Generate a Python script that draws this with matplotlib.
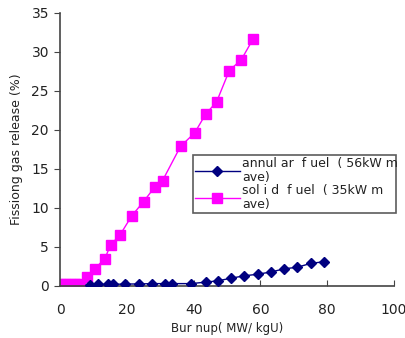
import matplotlib
matplotlib.use('Agg')
import matplotlib.pyplot as plt

# annular fuel (56 kW/m ave)
annular_burnup = [9, 11.3, 14.3, 16, 19.4, 23.6, 27.4, 31.3, 33.4, 39.3, 43.8, 47.2,
                  51.3, 55.2, 59.2, 63.3, 67.2, 71.1, 75.2, 79.1]
annular_fgr = [0.15, 0.2, 0.2, 0.2, 0.25, 0.25, 0.3, 0.3, 0.3, 0.3, 0.5, 0.65,
               1.0, 1.3, 1.5, 1.8, 2.2, 2.4, 2.9, 3.1]

# solid fuel (35 kW/m ave)
solid_burnup = [0, 1.5, 3, 4.5, 6, 8.2, 10.4, 13.4, 15.2, 17.9, 21.5, 25, 28.4, 30.7,
                36.1, 40.3, 43.6, 46.9, 50.7, 54.3, 57.9]
solid_fgr = [0.2, 0.2, 0.2, 0.2, 0.2, 1.15, 2.2, 3.5, 5.3, 6.5, 9.0, 10.8, 12.7, 13.5,
             17.9, 19.6, 22.0, 23.6, 27.6, 29.0, 31.7]

labels = ['annul ar  f uel  ( 56kW m\nave)', 'sol i d  f uel  ( 35kW m\nave)']

fig = plt.figure(figsize=(4.06, 3.38), dpi=100)
ax = fig.add_axes([0.148, 0.154, 0.822, 0.808])

ax.plot(annular_burnup, annular_fgr, color='#000080', marker='D', markersize=5.5,
        linewidth=1, label=labels[0], zorder=3)
ax.plot(solid_burnup, solid_fgr, color='#FF00FF', marker='s', markersize=7,
        linewidth=1, label=labels[1], zorder=2)

ax.set_xlim(0, 100)
ax.set_ylim(0, 35)
ax.set_xticks([0, 20, 40, 60, 80, 100])
ax.set_yticks([0, 5, 10, 15, 20, 25, 30, 35])

for s in ['top', 'right']:
    ax.spines[s].set_visible(False)
for s in ['left', 'bottom']:
    ax.spines[s].set_color('#444444')
    ax.spines[s].set_linewidth(1.2)

ax.tick_params(axis='y', direction='out', length=4, colors='#444444',
               labelcolor='#222222', labelsize=10, pad=4)
ax.tick_params(axis='x', direction='in', length=4, colors='#444444',
               labelcolor='#222222', labelsize=10, pad=12)

ax.set_ylabel('Fissiong gas release (%)', fontsize=9, color='#222222', labelpad=6)
ax.set_xlabel('Bur nup( MW/ kgU)', fontsize=8.5, color='#222222', labelpad=4)

leg = ax.legend(loc='upper left', bbox_to_anchor=(0.398, 0.23, 0.608, 0.25),
                mode='expand', fontsize=9, frameon=True, fancybox=False,
                edgecolor='#333333', handlelength=3.6, borderpad=0.15,
                labelspacing=0.05, handletextpad=0.2, borderaxespad=0)
leg.get_frame().set_linewidth(1.2)
for t in leg.get_texts():
    t.set_color('#222222')
    t.set_linespacing(1.1)

fig.savefig('out.png', dpi=100)
